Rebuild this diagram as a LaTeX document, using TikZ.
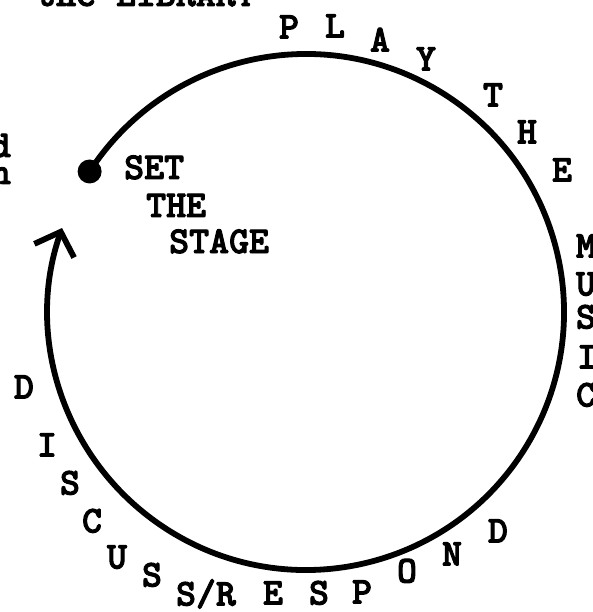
\documentclass[tikz,border=0pt]{standalone}
\usepackage{fontspec}
\newfontfamily\typer{lmmonolt10-bold.otf}[FakeBold=2.5]
\usepackage{tikz}
\usetikzlibrary{arrows.meta, calc}

\begin{document}
\begin{tikzpicture}[
    x=1pt, y=1pt,
    every node/.style={font=\typer\fontsize{38}{40}\selectfont, inner sep=0pt},
    ring/.style={line width=5.8pt, -{Straight Barb[length=20pt, width=42pt, line width=5.8pt]}},
    letter/.style={text height=21pt, text depth=0pt, anchor=center},
    cue/.style={anchor=base west},
    cutoff/.style={anchor=base east},
    dotmark/.style={circle, fill, minimum size=24pt}
]

\useasboundingbox (0,0) rectangle (593,-612);
\clip (0,0) rectangle (593,-612);

% ── Cut-off text of the page ──
\node[anchor=base west] (pagetop) at (36,-6) {the LIBRARY};
\node[cutoff] (pagel1) at (11,-157) {d};
\node[cutoff] (pagel2) at (11,-184) {n};

% ── The cycle ──
\coordinate (hub) at (306,-312);
\node[dotmark] (start) at ($(hub)+(147:258)$) {};
\draw[ring] (start.center) arc[start angle=147, end angle=-199, radius=258];

% ── Set the stage ──
\node[cue] (set)   at (124,-179) {SET};
\node[cue] (the)   at (146,-217) {THE};
\node[cue] (stage) at (169,-253) {STAGE};

% ── Play the music ──
\node[letter] (p1) at (289,-28) {P};
\node[letter] (p2) at (335,-27) {L};
\node[letter] (p3) at (380,-41) {A};
\node[letter] (p4) at (426,-60) {Y};
\node[letter] (p5) at (493,-96) {T};
\node[letter] (p6) at (527,-133) {H};
\node[letter] (p7) at (562,-171) {E};
\node[letter] (m1) at (586,-247) {M};
\node[letter] (m2) at (586,-285) {U};
\node[letter] (m3) at (586,-318) {S};
\node[letter] (m4) at (587,-358) {I};
\node[letter] (m5) at (586,-396) {C};

% ── Discuss / respond ──
\node[letter] (d1) at (24,-388) {D};
\node[letter] (d2) at (47,-446) {I};
\node[letter] (d3) at (70,-484) {S};
\node[letter] (d4) at (92,-522) {C};
\node[letter] (d5) at (117,-558) {U};
\node[letter] (d6) at (152,-576) {S};
\node[letter] (d7) at (206,-595) {S/R};
\node[letter] (r1) at (273,-594) {E};
\node[letter] (r2) at (319,-594) {S};
\node[letter] (r3) at (362,-593) {P};
\node[letter] (r4) at (407,-572) {O};
\node[letter] (r5) at (452,-555) {N};
\node[letter] (r6) at (498,-532) {D};

\end{tikzpicture}
\end{document}
